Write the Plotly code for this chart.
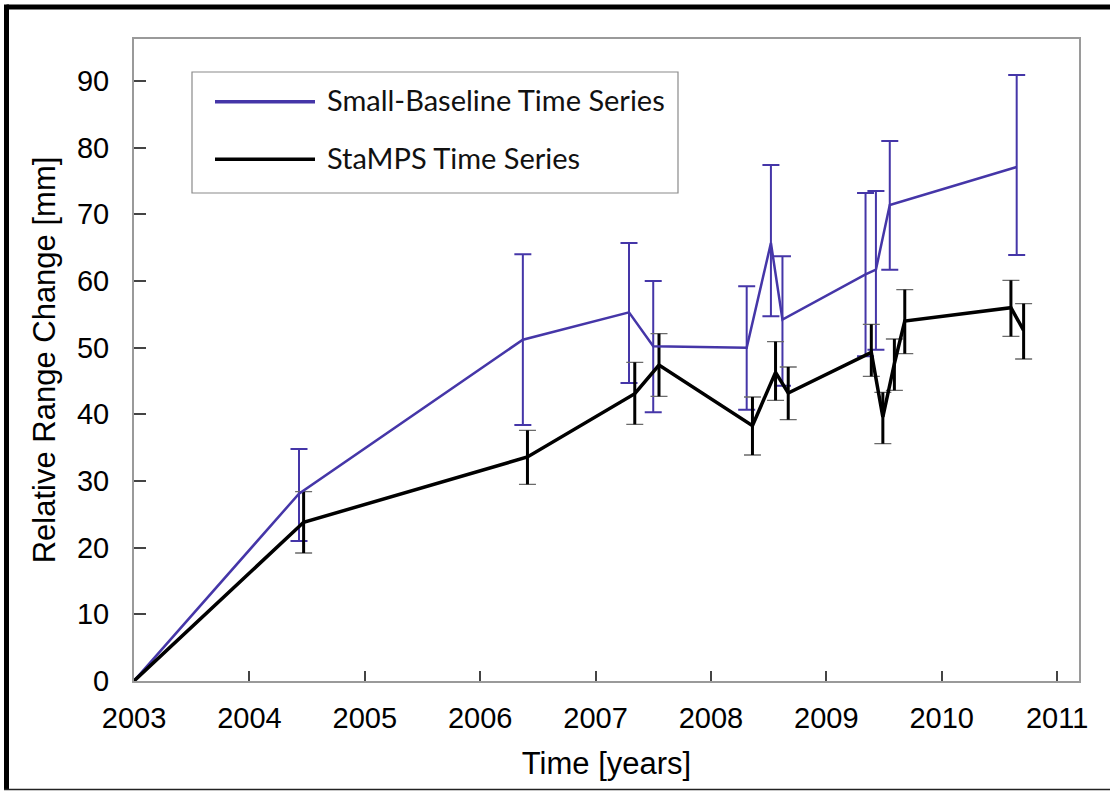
import plotly.graph_objects as go

# ---------------- data ----------------
series_names = ["Small-Baseline Time Series", "StaMPS Time Series"]

sb_time = [2003.0, 2004.43, 2006.37, 2007.29, 2007.50, 2008.31, 2008.52, 2008.62, 2009.34, 2009.43, 2009.55, 2010.65]
sb_value = [0.0, 28.1, 51.2, 55.3, 50.2, 50.0, 65.7, 54.2, 61.0, 61.7, 71.4, 77.1]
sb_upper = [None, 34.8, 64.0, 65.7, 60.0, 59.2, 77.4, 63.7, 73.2, 73.5, 81.0, 90.9]
sb_lower = [None, 21.0, 38.4, 44.7, 40.3, 40.7, 54.7, 44.3, 48.7, 49.7, 61.7, 63.9]

st_time = [2003.0, 2004.47, 2006.41, 2007.34, 2007.55, 2008.36, 2008.56, 2008.67, 2009.39, 2009.49, 2009.59, 2009.68, 2010.60, 2010.71]
st_value = [0.0, 23.8, 33.6, 43.1, 47.4, 38.3, 46.3, 43.2, 49.3, 39.6, 47.6, 54.0, 56.0, 52.6]
st_upper = [None, 28.4, 37.6, 47.8, 52.1, 42.6, 50.9, 47.1, 53.5, 43.3, 51.3, 58.7, 60.1, 56.6]
st_lower = [None, 19.2, 29.5, 38.5, 42.7, 33.9, 42.1, 39.2, 45.7, 35.6, 43.6, 49.1, 51.7, 48.3]

x_ticks = [2003, 2004, 2005, 2006, 2007, 2008, 2009, 2010, 2011]
y_ticks = [0, 10, 20, 30, 40, 50, 60, 70, 80, 90]

# ---------------- style ----------------
W, H = 1110, 791
ML, MR, MT, MB = 134, 31, 39, 110
PW, PH = W - ML - MR, H - MT - MB
BLUE = "#4536a8"
BLACK = "#000000"
TICKFONT = dict(family="Liberation Sans, Arial, sans-serif", size=29, color="#000")
TITLEFONT = dict(family="Liberation Sans, Arial, sans-serif", size=31, color="#000")
LEGFONT = dict(family="Lato, sans-serif", size=29, color="#111")


def px(x):
    return (x - ML) / PW


def py(y):
    return (H - MB - y) / PH


def err_parts(times, vals, up, lo):
    t, v, p, m = [], [], [], []
    for ti, vi, ui, li in zip(times, vals, up, lo):
        if ui is None:
            continue
        t.append(ti)
        v.append(vi)
        p.append(ui - vi)
        m.append(vi - li)
    return t, v, p, m


fig = go.Figure()

# Small-baseline error bars
t, v, p, m = err_parts(sb_time, sb_value, sb_upper, sb_lower)
fig.add_trace(go.Scatter(
    x=t, y=v, mode="markers", marker=dict(size=1, opacity=0), showlegend=False,
    error_y=dict(type="data", symmetric=False, array=p, arrayminus=m,
                 color=BLUE, thickness=2, width=8.5),
    hoverinfo="skip"))

# StaMPS error bars: gray caps + thick black stems
t, v, p, m = err_parts(st_time, st_value, st_upper, st_lower)
fig.add_trace(go.Scatter(
    x=t, y=v, mode="markers", marker=dict(size=1, opacity=0), showlegend=False,
    error_y=dict(type="data", symmetric=False, array=p, arrayminus=m,
                 color="#6a6a6a", thickness=1.3, width=8.5),
    hoverinfo="skip"))
fig.add_trace(go.Scatter(
    x=t, y=v, mode="markers", marker=dict(size=1, opacity=0), showlegend=False,
    error_y=dict(type="data", symmetric=False, array=p, arrayminus=m,
                 color=BLACK, thickness=3, width=0),
    hoverinfo="skip"))

# lines
fig.add_trace(go.Scatter(x=sb_time, y=sb_value, mode="lines", name=series_names[0],
                         line=dict(color=BLUE, width=2.5), showlegend=False))
fig.add_trace(go.Scatter(x=st_time, y=st_value, mode="lines", name=series_names[1],
                         line=dict(color=BLACK, width=3.5), showlegend=False))

shapes = []
# outer frame (black), partly clipped by the page edge
shapes.append(dict(type="line", xref="paper", yref="paper", x0=px(6.5), x1=px(1115), y0=py(7), y1=py(7),
                   line=dict(color="#000", width=5)))
shapes.append(dict(type="line", xref="paper", yref="paper", x0=px(6.5), x1=px(6.5), y0=py(4.5), y1=py(790),
                   line=dict(color="#000", width=5)))
shapes.append(dict(type="line", xref="paper", yref="paper", x0=px(4), x1=px(1115), y0=py(789.5), y1=py(789.5),
                   line=dict(color="#222", width=1.5)))

# legend box
shapes.append(dict(type="rect", xref="paper", yref="paper", x0=px(192), x1=px(678), y0=py(72), y1=py(193),
                   line=dict(color="#8a8a8a", width=1.2), fillcolor="rgba(0,0,0,0)"))
leg_rows = [(101.7, BLUE, 3.5), (159.3, BLACK, 3.5)]
annotations = []
for (yy, col, lw), name in zip(leg_rows, series_names):
    shapes.append(dict(type="line", xref="paper", yref="paper", x0=px(215), x1=px(315), y0=py(yy), y1=py(yy),
                       line=dict(color=col, width=lw)))
    annotations.append(dict(xref="paper", yref="paper", x=px(325), y=py(yy - 2), text=name,
                            xanchor="left", yanchor="middle", showarrow=False, font=LEGFONT))

fig.update_layout(
    width=W, height=H,
    margin=dict(l=ML, r=MR, t=MT, b=MB, pad=0),
    paper_bgcolor="white", plot_bgcolor="white",
    shapes=shapes, annotations=annotations,
    xaxis=dict(range=[2003, 2011.19], tickvals=x_ticks, ticktext=[str(v) for v in x_ticks],
               showgrid=False, zeroline=False, showline=True, linecolor="#9a9a9a", linewidth=2,
               mirror=True, ticks="inside", ticklen=10, tickwidth=2, tickcolor="#444",
               tickfont=TICKFONT, ticklabelstandoff=10,
               title=dict(text="Time [years]", font=TITLEFONT, standoff=20)),
    yaxis=dict(range=[0, 96.3], tickvals=y_ticks, ticktext=[str(v) for v in y_ticks],
               showgrid=False, zeroline=False, showline=True, linecolor="#9a9a9a", linewidth=2,
               mirror=True, ticks="inside", ticklen=12, tickwidth=2, tickcolor="#444",
               tickfont=TICKFONT, ticklabelstandoff=17,
               title=dict(text="Relative Range Change [mm]", font=TITLEFONT, standoff=12)),
)

fig.write_html("out.html")
